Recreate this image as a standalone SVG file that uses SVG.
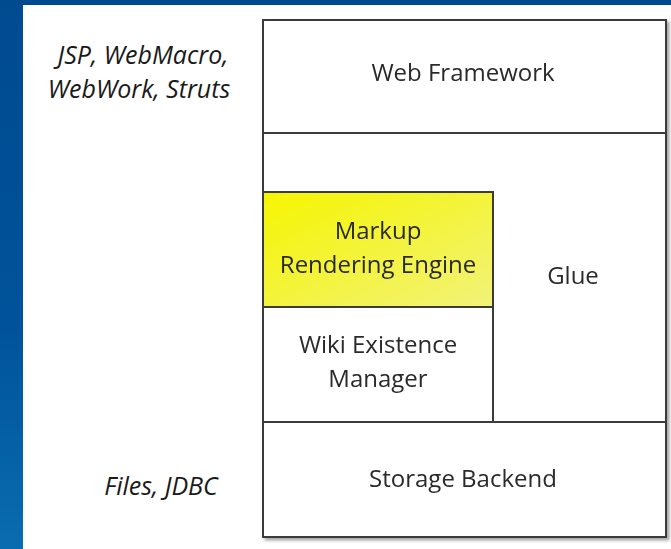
<svg xmlns="http://www.w3.org/2000/svg" width="671" height="549" viewBox="0 0 671 549">
  <defs>
    <linearGradient id="frameBlue" x1="0" y1="0" x2="0" y2="1">
      <stop offset="0" stop-color="#004a90"/>
      <stop offset="0.6" stop-color="#00539a"/>
      <stop offset="1" stop-color="#0a6cb0"/>
    </linearGradient>
    <linearGradient id="markupFill" x1="0" y1="0" x2="1" y2="1">
      <stop offset="0" stop-color="#f5f500"/>
      <stop offset="1" stop-color="#f2f27a"/>
    </linearGradient>
    <filter id="soft" x="-5%" y="-5%" width="115%" height="115%">
      <feDropShadow dx="2.5" dy="2.5" stdDeviation="1.6" flood-color="#000" flood-opacity="0.35"/>
    </filter>
  </defs>
  <style>
    .box { fill: #ffffff; stroke: #3a3a3a; stroke-width: 2; }
    .label { font-family: "Open Sans", "Noto Sans", "DejaVu Sans", sans-serif; font-size: 24px; fill: #2a2a2a; text-anchor: middle; }
    .note { font-family: "Open Sans", "Noto Sans", "DejaVu Sans", sans-serif; font-size: 25px; font-style: italic; fill: #1a1a1a; text-anchor: middle; }
  </style>

  <!-- slide background -->
  <rect x="0" y="0" width="671" height="549" fill="#ffffff"/>
  <rect x="0" y="0" width="671" height="5" fill="#004a90"/>
  <rect x="0" y="0" width="23" height="549" fill="url(#frameBlue)"/>

  <!-- side notes -->
  <text class="note" x="143" y="64">JSP, WebMacro,</text>
  <text class="note" x="139" y="98">WebWork, Struts</text>
  <text class="note" x="161" y="495">Files, JDBC</text>

  <g id="stack" filter="url(#soft)">
    <g id="web-framework">
      <rect class="box" x="263" y="20" width="403" height="113"/>
      <text class="label" x="463" y="81">Web Framework</text>
    </g>
    <g id="glue">
      <rect class="box" x="263" y="133" width="403" height="289"/>
      <text class="label" x="573" y="284">Glue</text>
    </g>
    <g id="markup-rendering-engine">
      <rect class="box" x="263" y="192" width="230" height="115" style="fill:url(#markupFill)"/>
      <text class="label" x="378" y="239">Markup</text>
      <text class="label" x="378" y="273">Rendering Engine</text>
    </g>
    <g id="wiki-existence-manager">
      <rect class="box" x="263" y="307" width="230" height="115"/>
      <text class="label" x="378" y="353">Wiki Existence</text>
      <text class="label" x="378" y="387">Manager</text>
    </g>
    <g id="storage-backend">
      <rect class="box" x="263" y="422" width="403" height="115"/>
      <text class="label" x="463" y="487">Storage Backend</text>
    </g>
  </g>

  <g id="connectors"/>
</svg>
